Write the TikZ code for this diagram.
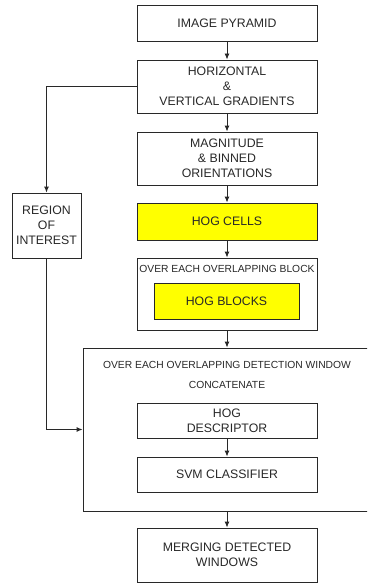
\documentclass[tikz,border=0pt]{standalone}
\usepackage{fontspec}
\setmainfont{Liberation Sans}
\usetikzlibrary{arrows.meta}
\definecolor{hogyellow}{RGB}{255,255,0}
\definecolor{ink}{RGB}{40,40,40}
\begin{document}
\begin{tikzpicture}[x=1pt,y=-1pt,
  font=\fontsize{12.3}{15}\selectfont,
  every node/.style={text=ink},
  stage/.style={draw=ink, line width=0.9pt, fill=white, minimum width=180pt,
    align=center, inner sep=0pt},
  hot/.style={stage, fill=hogyellow},
  looptitle/.style={font=\fontsize{10.3}{12}\selectfont},
  flow/.style={draw=ink, line width=0.9pt, -{Latex[length=6pt,width=5pt]}}]
\useasboundingbox (0,0) rectangle (367,583);
\clip (0,0) rectangle (367,583);

% main pipeline
\node[stage, minimum height=36pt] (pyr) at (227,23) {IMAGE PYRAMID};
\node[stage, minimum height=53pt] (grad) at (227,86.5) {HORIZONTAL\\\&\\VERTICAL GRADIENTS};
\node[stage, minimum height=53pt] (mag) at (227,158.5) {MAGNITUDE\\\& BINNED\\ORIENTATIONS};
\node[hot, minimum height=37pt] (cells) at (227,221.5) {HOG CELLS};

% block loop
\node[stage, minimum height=72pt] (blk) at (227,294) {};
\node[looptitle] (blktitle) at (227,269) {OVER EACH OVERLAPPING BLOCK};
\node[hot, minimum width=145pt, minimum height=36pt] (blocks) at (226.5,301) {HOG BLOCKS};

% detection window loop (runs past the right edge)
\node[stage, minimum width=317pt, minimum height=163pt] (win) at (241.5,429.5) {};
\node[looptitle] (wintitle) at (227,365) {OVER EACH OVERLAPPING DETECTION WINDOW};
\node[looptitle] (concat) at (227,385) {CONCATENATE};
\node[stage, minimum height=35pt] (desc) at (227,420.5) {HOG\\DESCRIPTOR};
\node[stage, minimum height=35pt] (svm) at (227,474.5) {SVM CLASSIFIER};

\node[stage, minimum height=54pt] (merge) at (227,555) {MERGING DETECTED\\WINDOWS};

% region of interest branch
\node[stage, minimum width=69pt, minimum height=65pt] (roi) at (46.5,225.5) {REGION\\OF\\INTEREST};

% connectors
\draw[flow] (pyr) -- (grad);
\draw[flow] (grad) -- (mag);
\draw[flow] (mag) -- (cells);
\draw[flow] (cells) -- (blk);
\draw[flow] (blk.south) -- (blk.south |- win.north);
\draw[flow] (desc) -- (svm);
\draw[flow] (merge.north |- win.south) -- (merge.north);
\draw[flow] (grad.west) -| (roi.north);
\draw[flow] (roi.south) |- (win.west);
\end{tikzpicture}
\end{document}
